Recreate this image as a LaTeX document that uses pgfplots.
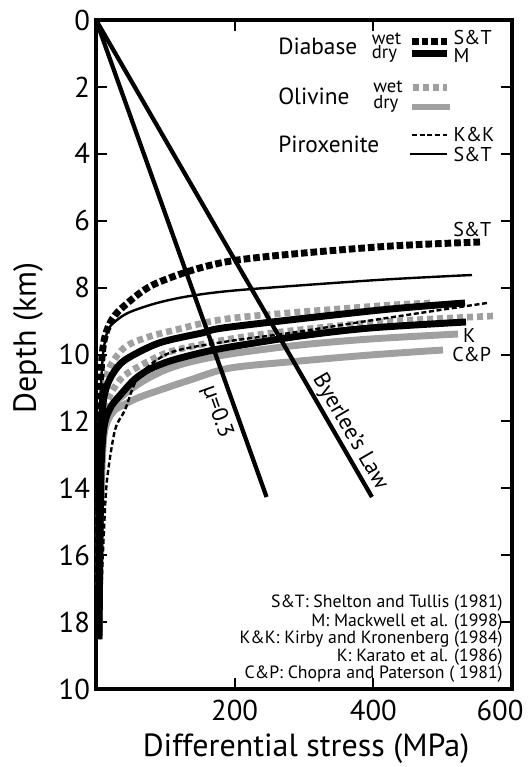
\documentclass[border=0pt]{standalone}
\usepackage{fontspec}
\setmainfont{PT Sans}
\usepackage{pgfplots}
\pgfplotsset{compat=1.18}
\usepackage{pgfplotstable}
\definecolor{grayc}{RGB}{160,160,160}

% Diabase wet (S&T)
\pgfplotstableread{
x y
553.85 6.637
405.29 6.786
194.71 7.205
87.98 7.862
38.94 8.580
20.19 9.058
10.10 9.776
5.77 11.360
4.33 14.350
2.88 18.505
}\tA
% Piroxenite S&T (thin solid)
\pgfplotstableread{
x y
542.30 7.623
405.29 7.773
207.69 8.072
135.58 8.251
87.98 8.460
49.04 8.729
30.29 8.969
17.31 9.268
10.10 10.015
5.77 11.659
4.33 14.350
2.88 18.505
}\tB
% Olivine wet (upper)
\pgfplotstableread{
x y
481.73 8.460
405.29 8.550
197.60 8.909
113.94 9.268
70.67 9.507
41.83 9.776
23.08 10.254
14.42 10.703
8.65 11.510
5.77 12.855
4.33 14.948
3.61 18.505
}\tEa
% Olivine wet (lower)
\pgfplotstableread{
x y
572.60 8.849
409.62 9.028
265.38 9.327
193.27 9.537
121.15 9.836
90.86 10.045
41.83 10.613
20.19 11.211
11.54 11.809
7.21 12.855
5.77 14.948
4.33 18.505
}\tEb
% Diabase dry M
\pgfplotstableread{
x y
532.21 8.460
409.62 8.670
193.27 9.178
152.88 9.357
90.86 9.656
41.83 10.164
23.08 10.613
12.98 11.121
8.65 11.809
5.77 13.154
4.33 15.546
3.61 18.505
}\tM
% Piroxenite K&K (thin dashed)
\pgfplotstableread{
x y
563.94 8.460
409.62 8.939
279.81 9.357
193.27 9.596
113.94 9.895
77.88 10.314
56.25 10.852
41.83 11.659
27.40 12.257
15.87 13.752
11.54 15.247
7.21 17.339
5.77 18.505
}\tD
% Diabase dry (second)
\pgfplotstableread{
x y
533.65 9.028
395.19 9.208
294.23 9.447
193.27 9.776
150.00 9.955
106.73 10.194
77.88 10.433
56.25 10.732
37.50 11.151
23.08 11.510
14.42 11.898
10.10 12.407
7.21 13.453
5.77 15.546
4.33 18.505
}\tF
% Olivine dry K
\pgfplotstableread{
x y
522.11 9.387
395.19 9.537
294.23 9.716
193.27 9.985
135.58 10.224
99.52 10.463
70.67 10.762
49.04 11.061
31.73 11.360
20.19 11.719
12.98 12.108
8.65 12.855
5.77 14.948
4.33 18.505
}\tK
% Olivine dry C&P
\pgfplotstableread{
x y
500.48 9.865
395.19 10.015
294.23 10.194
193.27 10.404
135.58 10.762
92.31 11.061
63.46 11.271
41.83 11.480
27.40 11.659
17.31 11.958
11.54 12.407
8.65 13.453
5.77 15.546
4.33 18.505
}\tCP

\tikzset{
 bk/.style={black, line width=5.2pt},
 gr/.style={grayc, line width=5.2pt},
 bkd/.style={black, line width=5.2pt, dash pattern=on 5pt off 2.2pt},
 grd/.style={grayc, line width=5pt, dash pattern=on 4.5pt off 3pt},
 thn/.style={black, line width=1.8pt},
 thnd/.style={black, line width=1.8pt, dash pattern=on 3.75pt off 2pt},
 fr/.style={black, line width=3.2pt},
}

\begin{document}
\begin{tikzpicture}
\begin{axis}[
  at={(0,0)}, anchor=south west,
  scale only axis, width=312pt, height=501.75pt,
  xmin=0, xmax=600, ymin=0, ymax=20, y dir=reverse,
  xtick={200,400,600}, xticklabels={200,400,\hspace*{-18pt}600},
  ytick={0,2,...,20}, yticklabels={0,2,4,6,8,10,12,14,16,18,10},
  tick align=inside, major tick length=8pt,
  tick style={line width=1.5pt, black},
  axis line style={line width=2.8pt, line cap=rect},
  tick label style={font=\fontsize{21.5}{21.5}\selectfont},
  xticklabel style={yshift=-5pt},
  yticklabel style={xshift=-1pt},
  /pgf/number format/assume math mode=true,
  clip=false,
]
% creep curves
\addplot[gr, smooth] table[x=x,y=y]{\tK};
\addplot[gr, smooth] table[x=x,y=y]{\tCP};
\addplot[grd, smooth] table[x=x,y=y]{\tEa};
\addplot[grd, smooth] table[x=x,y=y]{\tEb};
\addplot[bk, smooth] table[x=x,y=y]{\tM};
\addplot[bk, smooth] table[x=x,y=y]{\tF};
\addplot[thn, smooth] table[x=x,y=y]{\tB};
\addplot[thnd, smooth] table[x=x,y=y]{\tD};
% friction lines
\addplot[fr] coordinates {(0,0) (398,14.26)};
\addplot[fr] coordinates {(0,0) (246,14.26)};
\addplot[bkd, smooth] table[x=x,y=y]{\tA};

% legend samples
\addplot[bkd] coordinates {(455.8,0.643) (506.3,0.643)};
\addplot[bk] coordinates {(455.8,1.001) (506.3,1.001)};
\addplot[grd] coordinates {(457.2,2.018) (506.3,2.018)};
\addplot[gr] coordinates {(455.8,2.601) (510.6,2.601)};
\addplot[thnd] coordinates {(455.8,3.438) (506.3,3.438)};
\addplot[thn] coordinates {(452.9,4.006) (506.3,4.006)};

% legend text
\node[anchor=base west, inner sep=0, font=\fontsize{17.5}{17.5}\selectfont] at (axis cs:262.5,1.046) {Diabase};
\node[anchor=base west, inner sep=0, font=\fontsize{14}{14}\selectfont] at (axis cs:397.6,0.747) {wet};
\node[anchor=base west, inner sep=0, font=\fontsize{14}{14}\selectfont] at (axis cs:397.6,1.136) {dry};
\node[anchor=base west, inner sep=0, font=\fontsize{15}{15}\selectfont] at (axis cs:515.4,0.747) {S\&T};
\node[anchor=base west, inner sep=0, font=\fontsize{15}{15}\selectfont] at (axis cs:515.4,1.256) {M};
\node[anchor=base west, inner sep=0, font=\fontsize{17.5}{17.5}\selectfont] at (axis cs:262.5,2.541) {Olivine};
\node[anchor=base west, inner sep=0, font=\fontsize{14}{14}\selectfont] at (axis cs:399.5,2.182) {wet};
\node[anchor=base west, inner sep=0, font=\fontsize{14}{14}\selectfont] at (axis cs:399.5,2.631) {dry};
\node[anchor=base west, inner sep=0, font=\fontsize{17.5}{17.5}\selectfont] at (axis cs:262.5,3.976) {Piroxenite};
\node[anchor=base west, inner sep=0, font=\fontsize{15}{15}\selectfont] at (axis cs:515.4,3.647) {K\&K};
\node[anchor=base west, inner sep=0, font=\fontsize{15}{15}\selectfont] at (axis cs:515.4,4.245) {S\&T};

% curve labels
\node[anchor=base west, inner sep=0, font=\fontsize{15}{15}\selectfont] at (axis cs:514.9,6.487) {S\&T};
\node[anchor=base west, inner sep=0, font=\fontsize{15}{15}\selectfont] at (axis cs:529.3,9.656) {K};
\node[anchor=base west, inner sep=0, font=\fontsize{15}{15}\selectfont] at (axis cs:513.5,10.224) {C\&P};

% friction labels
\node[rotate=-59.9, font=\fontsize{17}{17}\selectfont, inner sep=0] at (axis cs:366.3,12.317) {Byerlee’s Law};
\node[rotate=-70.3, font=\fontsize{17}{17}\selectfont, inner sep=0] at (axis cs:174.5,11.72) {µ=0.3};

% references
\node[anchor=base east, inner sep=0, font=\fontsize{13.3}{13.3}\selectfont] at (axis cs:587,17.578) {S\&T: Shelton and Tullis (1981)};
\node[anchor=base east, inner sep=0, font=\fontsize{13.3}{13.3}\selectfont] at (axis cs:587,18.117) {M: Mackwell et al. (1998)};
\node[anchor=base east, inner sep=0, font=\fontsize{13.3}{13.3}\selectfont] at (axis cs:587,18.625) {K\&K: Kirby and Kronenberg (1984)};
\node[anchor=base east, inner sep=0, font=\fontsize{13.3}{13.3}\selectfont] at (axis cs:587,19.163) {K: Karato et al. (1986)};
\node[anchor=base east, inner sep=0, font=\fontsize{13.3}{13.3}\selectfont] at (axis cs:587,19.671) {C\&P: Chopra and Paterson ( 1981)};
\end{axis}
\node[rotate=90, anchor=base, font=\fontsize{24}{24}\selectfont] at (-45pt,263.25pt) {Depth (km)};
\node[anchor=base, font=\fontsize{24}{24}\selectfont, inner sep=0] at (157.5pt,-51pt) {Differential stress (MPa)};
\pgfresetboundingbox
\path[use as bounding box] (-72pt,-58.5pt) rectangle (325.5pt,516.75pt);
\end{tikzpicture}
\end{document}
